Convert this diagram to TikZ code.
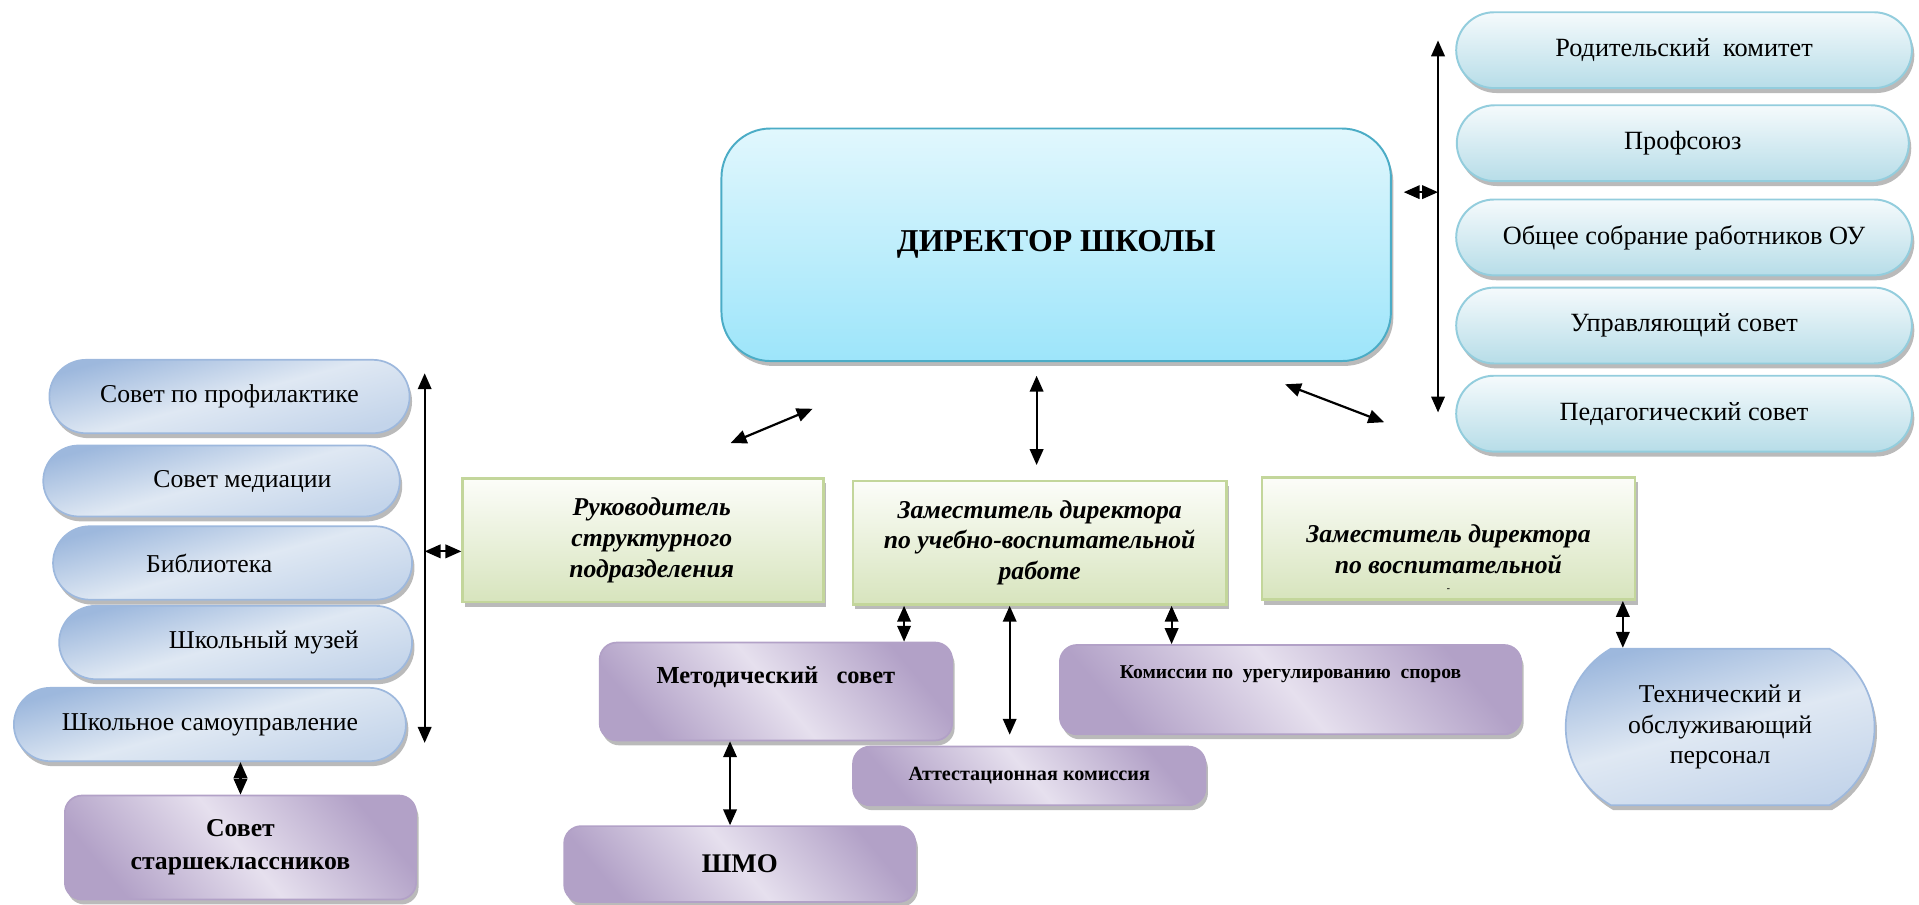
\documentclass[tikz,border=0pt]{standalone}
\usepackage{fontspec}
\setmainfont{Liberation Serif}
\usepackage{xcolor}
\usepackage{tikz}
\usetikzlibrary{positioning,arrows.meta,shapes.misc,shadows}

\definecolor{dirtop}{HTML}{E1F7FD}
\definecolor{dirbot}{HTML}{9DE5FA}
\definecolor{dirline}{HTML}{4BACC6}
\definecolor{cyantop}{HTML}{F5FAFC}
\definecolor{cyanbot}{HTML}{B7DDE8}
\definecolor{cyanline}{HTML}{93CDDD}
\definecolor{bluedark}{HTML}{9DB8DD}
\definecolor{bluemid}{HTML}{C3D4EA}
\definecolor{bluelight}{HTML}{DFE8F3}
\definecolor{purdark}{HTML}{B2A1C7}
\definecolor{purlight}{HTML}{E6E0EE}
\definecolor{grntop}{HTML}{FCFDF9}
\definecolor{grnbot}{HTML}{D7E4BD}
\definecolor{grnline}{HTML}{C3D69B}

\tikzset{
  dropsh/.style={drop shadow={shadow xshift=2pt,shadow yshift=-4pt,fill=black!45,opacity=.6}},
  dirbox/.style={rectangle, rounded corners=40pt, draw=dirline, line width=1.6pt,
    top color=dirtop, bottom color=dirbot, dropsh,
    minimum width=547pt, minimum height=190pt,
    font=\fontsize{26}{30}\selectfont\bfseries},
  cyanpill/.style={rounded rectangle, draw=cyanline, line width=1.6pt,
    top color=cyantop, bottom color=cyanbot, dropsh,
    minimum width=379pt, minimum height=62pt,
    font=\fontsize{21.5}{25}\selectfont},
  bluepill/.style={rounded rectangle, draw=bluedark, line width=1.4pt,
    top color=bluedark, bottom color=bluemid, middle color=bluelight, shading angle=15, dropsh,
    minimum height=60pt, font=\fontsize{21}{25}\selectfont},
  greenbox/.style={rectangle, draw=grnline, line width=2pt,
    top color=grntop, bottom color=grnbot, dropsh,
    minimum width=305pt, minimum height=101pt},
  gtext/.style={align=center, font=\fontsize{21}{25}\selectfont\bfseries\itshape},
  purbox/.style={rectangle, rounded corners=14pt, draw=purdark, line width=1.4pt,
    top color=purdark, bottom color=purdark, middle color=purlight, shading angle=-50, dropsh,
    minimum width=288pt, align=center},
  ptext/.style={font=\fontsize{20}{25}\selectfont\bfseries},
  dbl/.style={<->, line width=1.8pt}
}

\begin{document}
\begin{tikzpicture}[x=1pt,y=-1pt,>={Triangle[length=13pt,width=11pt]}]
\useasboundingbox (0,0) rectangle (1568,739);
% Director
\node[dirbox] (dir) at (863,200) {ДИРЕКТОР ШКОЛЫ};
% Right column: councils
\node[cyanpill] (rod) at (1376,41) {Родительский\ \ комитет};
\node[cyanpill, minimum width=376pt] (prof) at (1375,117) {Профсоюз};
\node[cyanpill] (obsh) at (1376,194) {Общее собрание работников ОУ};
\node[cyanpill] (upr) at (1376,266) {Управляющий совет};
\node[cyanpill] (ped) at (1376,338) {Педагогический совет};
% Left column
\node[bluepill, minimum width=301pt] (prof2) at (187.5,324) {Совет по профилактике};
\node[bluepill, minimum width=298pt, minimum height=58pt] (med) at (181,393) {\hspace*{34pt}Совет медиации};
\node[bluepill, minimum width=300pt] (bib) at (190,460) {Библиотека\hspace*{38pt}};
\node[bluepill, minimum width=295pt] (muz) at (192.5,525) {\hspace*{46pt}Школьный музей};
\node[bluepill, minimum width=327pt] (samo) at (171.5,592) {Школьное самоуправление};
\node[purbox, minimum width=287pt, minimum height=85pt, font=\fontsize{21}{27}\selectfont\bfseries] (sovst) at (196.5,692.5) {Совет\\старшеклассников};
% Deputies
\node[greenbox, minimum width=295pt, gtext] (ruk) at (525.5,441.5) {\hspace*{14pt}Руководитель\\\hspace*{14pt}структурного\\\hspace*{14pt}подразделения};
\node[greenbox, gtext] (zur) at (849.5,443.5) {Заместитель директора\\по учебно-воспитательной\\работе};
\node[greenbox, minimum height=100pt] (zvr) at (1183.5,440) {};
\node[gtext] (zvrtxt) at ([yshift=-16pt]zvr.center) {Заместитель директора\\по воспитательной\\[-10pt]{\fontsize{8}{8}\selectfont -}};
% Lower boxes
\node[purbox, minimum height=80pt] (met) at (634,565) {};
\node[ptext] (mettxt) at ([yshift=12pt]met.center) {Методический\ \ \ совет};
\node[purbox, minimum width=287pt, minimum height=62pt, ptext, font=\fontsize{22}{25}\selectfont\bfseries] (shmo) at (604.5,706) {ШМО};
\node[purbox, minimum height=48pt, font=\fontsize{16.5}{20}\selectfont\bfseries] (att) at (841,634) {Аттестационная комиссия};
\node[purbox, minimum width=377pt, minimum height=73pt] (kom) at (1054.5,563.5) {};
\node[ptext, font=\fontsize{16}{20}\selectfont\bfseries] (komtxt) at ([yshift=13pt]kom.center) {Комиссии по\ \ урегулированию\ \ споров};
\node[bluepill, rounded rectangle arc length=120, minimum width=259pt, minimum height=128pt, align=center, draw=bluedark] (teh) at (1405.5,594) {Технический и\\обслуживающий\\персонал};
% Arrows
\coordinate (dl1) at (597,362);
\coordinate (dl2) at (664,334);
\coordinate (dm1) at (847,380);
\coordinate (dm2) at (847,307);
\coordinate (dr1) at (1050,314);
\coordinate (dr2) at (1131,345);
\coordinate (rt) at (1175,33);
\coordinate (rb) at (1175,337);
\coordinate (dre) at (1147,157);
\coordinate (lt) at (347,305);
\coordinate (lb) at (347,607);
\coordinate (rukw) at ([yshift=-9pt]ruk.west);
\draw[dbl] (dl1) -- (dl2);
\draw[dbl] (dm1) -- (dm2);
\draw[dbl] (dr1) -- (dr2);
\draw[dbl] (rt) -- (rb);
\draw[dbl] (dre) -- (dre -| rt);
\draw[dbl] (lt) -- (lb);
\draw[dbl] (lt |- rukw) -- (rukw);
\draw[dbl] (sovst.north |- samo.south) -- (sovst.north);
\draw[dbl] ([xshift=-40pt]met.north east |- zur.south) -- ([xshift=-40pt]met.north east);
\draw[dbl, shorten >=9pt] ([xshift=-16pt]att.north |- zur.south) -- ([xshift=-16pt]att.north);
\draw[dbl] ([xshift=92pt]kom.north west |- zur.south) -- ([xshift=92pt]kom.north west);
\draw[dbl] ([xshift=-8pt]shmo.north |- met.south) -- ([xshift=-8pt]shmo.north);
\draw[dbl] ([xshift=-11pt]zvr.south east) -- ([xshift=-11pt]zvr.south east |- teh.north);
\end{tikzpicture}
\end{document}
